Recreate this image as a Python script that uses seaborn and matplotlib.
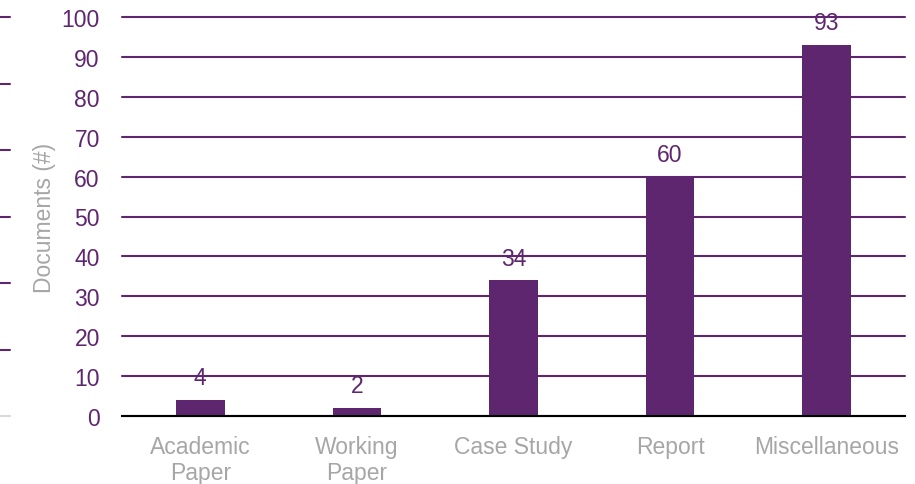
import pandas as pd
import seaborn as sns
from matplotlib import pyplot as plt

categories = ['Academic\nPaper', 'Working\nPaper', 'Case Study', 'Report', 'Miscellaneous']
documents = [4, 2, 34, 60, 93]

purple = '#5F2670'
grey = '#A6A6A6'

sns.set_style('white')
plt.rcParams['font.family'] = ['Liberation Sans', 'DejaVu Sans']

df = pd.DataFrame({'category': categories, 'documents': documents})

fig = plt.figure(figsize=(9.15, 4.85), dpi=100)
ax = fig.add_axes([122 / 915, 68 / 485, 783 / 915, 399 / 485])

sns.barplot(data=df, x='category', y='documents', color=purple, width=0.31,
            saturation=1, linewidth=0, ax=ax, zorder=3)

ax.set_ylim(0, 100)
ax.set_yticks(range(0, 101, 10))
ax.grid(axis='y', color=purple, linewidth=1.5, zorder=0)
ax.grid(axis='x', visible=False)
for gl in ax.get_ygridlines():
    gl.set_clip_on(False)
for s in ['top', 'right', 'left']:
    ax.spines[s].set_visible(False)
ax.spines['bottom'].set_color('black')
ax.spines['bottom'].set_linewidth(1.5)
ax.spines['bottom'].set_zorder(4)

ax.tick_params(axis='y', colors=purple, labelsize=16.5, length=0, pad=16)
ax.tick_params(axis='x', colors=grey, labelsize=16.5, length=0, pad=14)
for lbl in ax.get_xticklabels():
    lbl.set_linespacing(1.15)
ax.set_xlabel('')
ax.set_ylabel('Documents (#)', color=grey, fontsize=16.5, labelpad=4)

for i, v in enumerate(documents):
    ax.annotate(str(v), (i, v), xytext=(0, 16), textcoords='offset points',
                ha='center', va='center', color=purple, fontsize=16.5, zorder=5)

# leftover gridlines of a neighbouring chart at the left edge
ax2 = fig.add_axes([0, 68 / 485, 10 / 915, 399 / 485])
ax2.set_ylim(0, 6)
ax2.set_xlim(0, 1)
ax2.set_yticks(range(0, 7))
ax2.set_xticks([])
ax2.set_yticklabels([])
ax2.tick_params(length=0)
ax2.grid(axis='y', color=purple, linewidth=1.5)
ax2.grid(axis='x', visible=False)
ax2.get_ygridlines()[0].set_color('#D9D9D9')
for gl in ax2.get_ygridlines():
    gl.set_clip_on(False)
for s in ax2.spines.values():
    s.set_visible(False)
ax2.patch.set_alpha(0)

fig.savefig('out.png', dpi=100)
